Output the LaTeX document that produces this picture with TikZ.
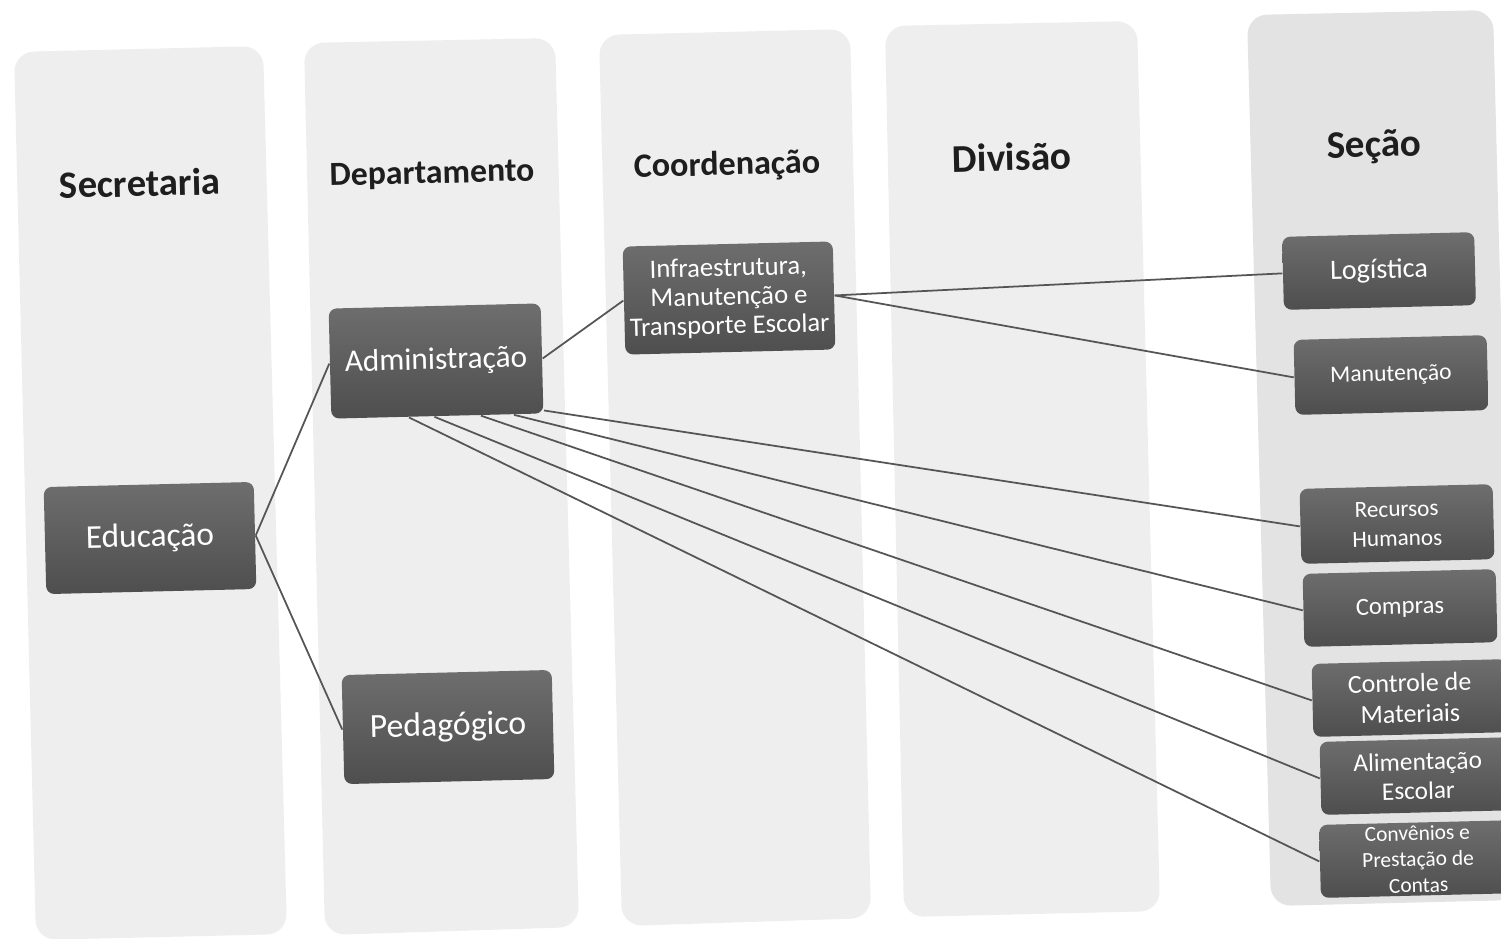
\documentclass[tikz,border=0pt]{standalone}
\usepackage{fontspec}
\setmainfont{Carlito}
\usetikzlibrary{positioning}
\definecolor{colfill}{RGB}{238,238,238}
\definecolor{lastfill}{RGB}{227,227,227}
\definecolor{boxtop}{RGB}{110,110,110}
\definecolor{boxbot}{RGB}{78,78,78}
\definecolor{linkgray}{RGB}{85,85,85}
\definecolor{headtext}{RGB}{30,30,30}
\tikzset{
	line width = .5pt,
	font = \footnotesize,
	column/.style={
		fill=colfill,
		rounded corners=.2cm
	},
	header/.style={
		text=headtext,
		rotate=1.4
	},
	unit/.style={
		rounded corners=.08cm,
		top color=boxtop,
		bottom color=boxbot,
		text=white,
		align=center,
		rotate=1.4,
		inner sep=0pt,
		minimum width=2.1cm,
		minimum height=1.07cm
	},
	section/.style={
		unit,
		minimum width=1.93cm,
		minimum height=.73cm
	},
	link/.style={
		draw=linkgray,
		line width=.5pt
	}
}

\begin{document}
\begin{tikzpicture}[x=0.01cm, y=-0.01cm]
		\useasboundingbox (0,0) rectangle (1501,938);
		\clip (0,0) rectangle (1501,938);
		\fill[white] (0,0) rectangle (1501,938);

		% columns
		\fill[column] (14,52) -- (263,46) -- (287,934) -- (36,940) -- cycle;
		\fill[column] (304,43) -- (555,38) -- (579,927) -- (325,935) -- cycle;
		\fill[column] (599,35) -- (850,29) -- (871,918) -- (622,926) -- cycle;
		\fill[column] (885,26) -- (1137,21) -- (1160,911) -- (904,917) -- cycle;
		\fill[column, fill=lastfill] (1247,15) -- (1493,10) -- (1516,900) -- (1271,906) -- cycle;

		% headers
		\node[header, font=\bfseries\fontsize{11}{13}\selectfont] at (140,183) (hsec) {Secretaria};
		\node[header, font=\bfseries\fontsize{9.6}{12}\selectfont] at (432,175) (hdep) {Departamento};
		\node[header, font=\bfseries\fontsize{9.7}{12}\selectfont] at (727,166) (hcoord) {Coordenação};
		\node[header, font=\bfseries\fontsize{11.2}{13}\selectfont] at (1012,157) (hdiv) {Divisão};
		\node[header, font=\bfseries\fontsize{11.1}{13}\selectfont] at (1374,147) (hsecao) {Seção};

		% boxes
		\node[unit, font=\fontsize{9.5}{11}\selectfont] at (150,538) (edu) {Educação};
		\node[unit, font=\fontsize{8.9}{11}\selectfont, minimum width=2.12cm, minimum height=1.1cm] at (436,361) (adm) {Administração};
		\node[unit, font=\fontsize{9.6}{11}\selectfont, minimum height=1.09cm] at (448,727) (ped) {Pedagógico};
		\node[unit, font=\fontsize{7.6}{8.2}\selectfont, minimum height=1.08cm] at (729,298) (infra) {Infraestrutura,\\Manutenção e\\Transporte Escolar};

		\node[section, font=\fontsize{8}{9.6}\selectfont, minimum width=1.92cm] at (1379,271) (logi) {Logística};
		\node[section, font=\fontsize{6.7}{8}\selectfont, minimum height=.75cm] at (1391,375) (manut) {Manutenção};
		\node[section, font=\fontsize{6.6}{8.3}\selectfont, minimum height=.75cm] at (1397,524) (rh) {Recursos\\Humanos};
		\node[section, font=\fontsize{7}{8.4}\selectfont] at (1400,608) (comp) {Compras};
		\node[section, font=\fontsize{7.4}{8.8}\selectfont, minimum width=1.95cm] at (1410,698) (ctrl) {Controle de\\Materiais};
		\node[section, font=\fontsize{7.2}{8.3}\selectfont, minimum width=1.95cm] at (1418,776) (alim) {Alimentação\\Escolar};
		\node[section, font=\fontsize{6.1}{7.4}\selectfont, minimum width=1.96cm] at (1418,859) (conv) {Convênios e\\Prestação de\\Contas};

		% connectors
		\draw[link] (edu.east) -- (adm.west);
		\draw[link] (edu.east) -- (ped.west);
		\draw[link] (adm.east) -- (infra.west);
		\draw[link] (infra.east) -- (logi.west);
		\draw[link] (infra.east) -- (manut.west);
		\foreach \a/\t in {-117/conv, -93/alim, -52/ctrl, -36/comp, -26/rh}
			\draw[link] (adm.\a) -- (\t.west);
	\end{tikzpicture}
\end{document}
